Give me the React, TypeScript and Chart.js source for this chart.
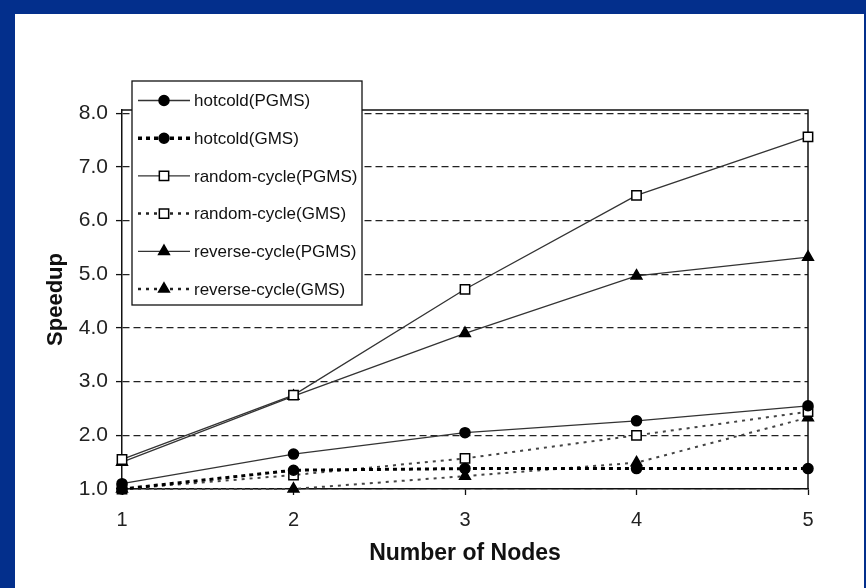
import React, { useEffect, useRef } from "react";
import { Chart, registerables } from "chart.js";

Chart.register(...registerables);

// ---- data ----
const nodes = [1, 2, 3, 4, 5];
const yTickValues = [1, 2, 3, 4, 5, 6, 7, 8];
const seriesNames = [
  "hotcold(PGMS)",
  "hotcold(GMS)",
  "random-cycle(PGMS)",
  "random-cycle(GMS)",
  "reverse-cycle(PGMS)",
  "reverse-cycle(GMS)",
];
const hotcoldPGMS = [1.1, 1.65, 2.05, 2.27, 2.55];
const hotcoldGMS = [1.0, 1.35, 1.38, 1.38, 1.38];
const randomPGMS = [1.55, 2.75, 4.72, 6.47, 7.56];
const randomGMS = [1.0, 1.26, 1.57, 2.0, 2.44];
const reversePGMS = [1.5, 2.73, 3.9, 4.97, 5.32];
const reverseGMS = [1.0, 1.0, 1.24, 1.49, 2.33];
const xTitle = "Number of Nodes";
const yTitle = "Speedup";

const FONT = "'Liberation Sans', Arial, sans-serif";

type Style = {
  color: string;
  width: number;
  dash: number[];
  marker: "circle" | "rect" | "triangle";
  fill: string;
  radius: number;
};

const styles: Style[] = [
  { color: "#333", width: 1.3, dash: [], marker: "circle", fill: "#000", radius: 5 },
  { color: "#000", width: 3, dash: [4, 4], marker: "circle", fill: "#000", radius: 5 },
  { color: "#333", width: 1.3, dash: [], marker: "rect", fill: "#fff", radius: 6.6 },
  { color: "#444", width: 2, dash: [3, 5], marker: "rect", fill: "#fff", radius: 6.6 },
  { color: "#333", width: 1.3, dash: [], marker: "triangle", fill: "#000", radius: 6.2 },
  { color: "#444", width: 2, dash: [3, 5], marker: "triangle", fill: "#000", radius: 6.2 },
];

const seriesValues = [hotcoldPGMS, hotcoldGMS, randomPGMS, randomGMS, reversePGMS, reverseGMS];

function drawMarker(ctx: CanvasRenderingContext2D, s: Style, x: number, y: number) {
  ctx.save();
  ctx.setLineDash([]);
  ctx.fillStyle = s.fill;
  ctx.strokeStyle = "#000";
  ctx.lineWidth = 1.5;
  ctx.beginPath();
  if (s.marker === "circle") {
    ctx.arc(x, y, s.radius, 0, Math.PI * 2);
  } else if (s.marker === "rect") {
    const h = s.radius * Math.SQRT1_2;
    ctx.rect(x - h, y - h, 2 * h, 2 * h);
  } else {
    const r = s.radius;
    ctx.moveTo(x, y - r);
    ctx.lineTo(x + r * 0.866, y + r * 0.5);
    ctx.lineTo(x - r * 0.866, y + r * 0.5);
    ctx.closePath();
  }
  ctx.fill();
  ctx.stroke();
  ctx.restore();
}

const framePlugin = {
  id: "frame",
  beforeDatasetsDraw(chart: any) {
    const { ctx, chartArea } = chart;
    ctx.save();
    ctx.strokeStyle = "#111";
    ctx.lineWidth = 1.5;
    ctx.beginPath();
    ctx.moveTo(chartArea.left, chartArea.top);
    ctx.lineTo(chartArea.right, chartArea.top);
    ctx.lineTo(chartArea.right, chartArea.bottom);
    ctx.stroke();
    ctx.restore();
  },
};

const legendPlugin = {
  id: "boxLegend",
  afterDraw(chart: any) {
    const ctx: CanvasRenderingContext2D = chart.ctx;
    const left = 132;
    const top = 81;
    const w = 230;
    const h = 224;
    ctx.save();
    ctx.fillStyle = "#fff";
    ctx.fillRect(left, top, w, h);
    ctx.strokeStyle = "#111";
    ctx.lineWidth = 1.3;
    ctx.strokeRect(left, top, w, h);
    seriesNames.forEach((name, i) => {
      const s = styles[i];
      const y = top + 19.5 + i * 37.7;
      ctx.save();
      ctx.strokeStyle = s.color === "#444" ? "#222" : s.color;
      ctx.lineWidth = s.width === 1.3 ? 1.3 : s.width + 0.5;
      ctx.setLineDash(s.dash);
      ctx.beginPath();
      ctx.moveTo(138, y);
      ctx.lineTo(190, y);
      ctx.stroke();
      ctx.restore();
      drawMarker(ctx, s, 164, y);
      ctx.fillStyle = "#111";
      ctx.font = `17px ${FONT}`;
      ctx.textBaseline = "middle";
      ctx.textAlign = "left";
      ctx.fillText(name, 194, y + 1);
    });
    ctx.restore();
  },
};

export default function App() {
  const ref = useRef<HTMLCanvasElement | null>(null);

  useEffect(() => {
    document.body.style.margin = "0";
    const canvas = ref.current!;
    const datasets = seriesNames.map((name, i) => {
      const s = styles[i];
      return {
        label: name,
        data: nodes.map((n, j) => ({ x: n, y: seriesValues[i][j] })),
        borderColor: s.color,
        borderWidth: s.width,
        borderDash: s.dash,
        pointStyle: s.marker,
        pointRadius: s.radius,
        pointBackgroundColor: s.fill,
        pointBorderColor: "#000",
        pointBorderWidth: 1.5,
        tension: 0,
        fill: false,
        clip: false as any,
      };
    });
    const chart = new Chart(canvas, {
      type: "line",
      data: { datasets },
      options: {
        responsive: false,
        animation: false,
        devicePixelRatio: 1,
        layout: { padding: { top: 110, right: 58, bottom: 0, left: 0 } },
        plugins: { legend: { display: false }, tooltip: { enabled: false } },
        scales: {
          x: {
            type: "linear",
            min: 1,
            max: 5,
            afterBuildTicks: (s: any) => {
              s.ticks = nodes.map((v) => ({ value: v }));
            },
            afterFit: (s: any) => {
              s.height = 99;
            },
            ticks: {
              font: { family: FONT, size: 20 },
              color: "#222",
              padding: 13,
              callback: (v: any) => String(v),
            },
            grid: {
              drawOnChartArea: false,
              drawTicks: true,
              tickLength: 6,
              tickColor: "#111",
              tickWidth: 1.3,
            },
            border: { display: true, color: "#111", width: 1.5 },
            title: {
              display: true,
              text: xTitle,
              color: "#111",
              font: { family: FONT, size: 23, weight: "bold" },
              padding: { top: 0, bottom: 21 },
            },
          },
          y: {
            type: "linear",
            min: 1,
            max: 8.06,
            afterBuildTicks: (s: any) => {
              s.ticks = yTickValues.map((v) => ({ value: v }));
            },
            afterFit: (s: any) => {
              s.width = 122;
            },
            ticks: {
              font: { family: FONT, size: 21 },
              color: "#222",
              padding: 8,
              callback: (v: any) => Number(v).toFixed(1),
            },
            grid: {
              color: "#222",
              lineWidth: 1.2,
              drawTicks: true,
              tickLength: 6,
              tickColor: "#111",
              tickWidth: 1.3,
            },
            border: { display: true, color: "#111", width: 1.5, dash: [7, 4] },
            title: {
              display: true,
              text: yTitle,
              color: "#111",
              font: { family: FONT, size: 22, weight: "bold" },
              padding: { top: 43, bottom: 0 },
            },
          },
        },
      },
      plugins: [framePlugin, legendPlugin],
    } as any);
    return () => chart.destroy();
  }, []);

  return (
    <div
      style={{
        position: "fixed",
        left: 0,
        top: 0,
        width: 866,
        height: 588,
        background: "#032f8c",
        overflow: "hidden",
      }}
    >
      <div
        style={{
          position: "absolute",
          left: 15,
          top: 14,
          right: 2,
          bottom: 0,
          background: "#ffffff",
        }}
      />
      <canvas
        ref={ref}
        width={866}
        height={588}
        style={{ position: "absolute", left: 0, top: 0, width: 866, height: 588 }}
      />
    </div>
  );
}
